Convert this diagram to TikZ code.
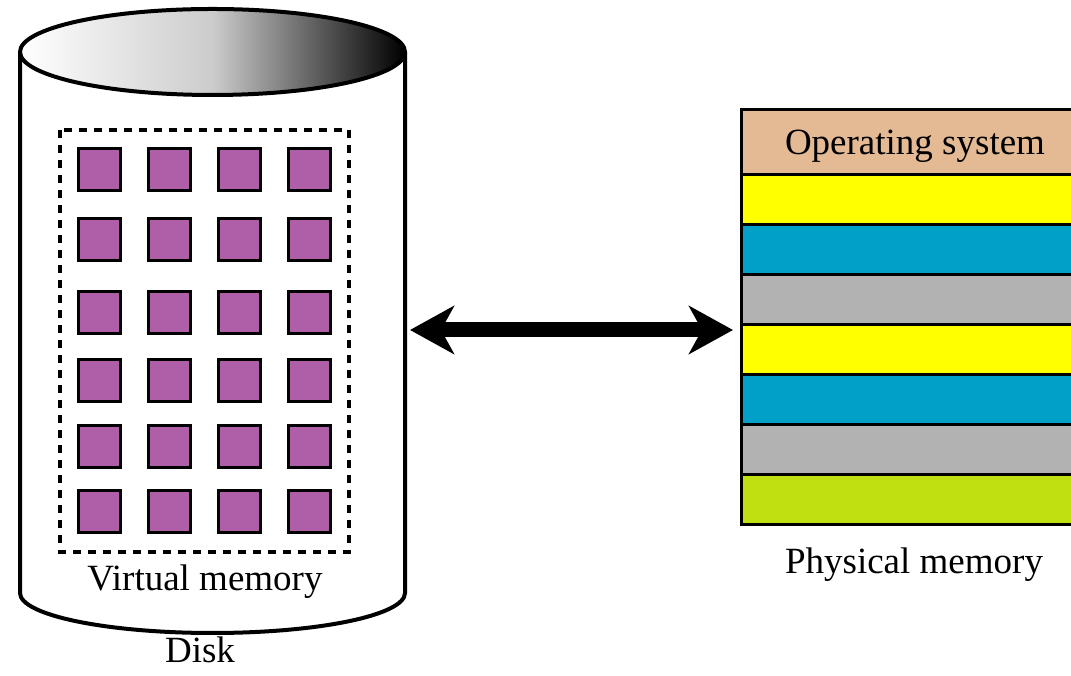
\documentclass[tikz,border=0pt]{standalone}
\usepackage{fontspec}
\setmainfont{Liberation Serif}
\usetikzlibrary{arrows.meta}
\definecolor{pagecol}{HTML}{AF5EA8}
\definecolor{oscol}{HTML}{E3BA94}
\definecolor{bandyellow}{HTML}{FFFF00}
\definecolor{bandblue}{HTML}{00A0C8}
\definecolor{bandgray}{HTML}{B2B2B2}
\definecolor{bandlime}{HTML}{C0E012}
\tikzset{
  outline/.style={draw=black, line width=4pt},
  pagebox/.style={draw=black, line width=3pt, fill=pagecol, minimum size=42pt,
    inner sep=0pt, outer sep=0pt},
  band/.style={draw=black, line width=3pt},
  label/.style={font=\fontsize{37}{40}\selectfont, inner sep=0pt},
  bigarrow/.style={line width=15pt,
    {Stealth[length=44pt, width=48pt, inset=13pt]}-{Stealth[length=44pt, width=48pt, inset=13pt]}}
}
\begin{document}
\begin{tikzpicture}[x=1pt, y=1pt]
  \useasboundingbox (0,0) rectangle (1071,676);
  \clip (0,0) rectangle (1071,676);

  % disk body
  \path[outline, fill=white]
    (20,624) -- (20,83) arc[start angle=180, end angle=360, x radius=192.5, y radius=40]
    -- (405,624);
  % shaded top of the disk (middle color given last so it is kept)
  \path[outline, left color=white, right color=black, middle color=white!80!black]
    (212.5,624) ellipse[x radius=192.5, y radius=43];
  \node[inner sep=0pt] (disk) at (212.5,350) {};

  % virtual memory area
  \draw[line width=3.5pt, dash pattern=on 8pt off 7pt] (60,546) rectangle (349,124);
  \foreach \r/\y in {1/506.5, 2/436, 3/363, 4/295, 5/229, 6/164} {
    \foreach \c/\x in {1/99.5, 2/169.5, 3/239.5, 4/309.5} {
      \node[pagebox] (p\r\c) at (\x,\y) {};
    }
  }
  \node[label, anchor=base] (vm) at (205,85) {Virtual memory};
  \node[label, anchor=base] (disklabel) at (200,13) {Disk};

  % physical memory stack
  \path[band, fill=oscol]      (741,566) rectangle (1089,501);
  \path[band, fill=bandyellow] (741,501) rectangle (1089,451);
  \path[band, fill=bandblue]   (741,451) rectangle (1089,401);
  \path[band, fill=bandgray]   (741,401) rectangle (1089,351);
  \path[band, fill=bandyellow] (741,351) rectangle (1089,301);
  \path[band, fill=bandblue]   (741,301) rectangle (1089,251);
  \path[band, fill=bandgray]   (741,251) rectangle (1089,201);
  \path[band, fill=bandlime]   (741,201) rectangle (1089,151);
  \node[label, anchor=base] (os) at (915,521) {Operating system};
  \node[label, anchor=base] (pm) at (914,102) {Physical memory};

  % transfer between disk and memory
  \coordinate (arrL) at (410,346);
  \coordinate (arrR) at (733,346);
  \draw[bigarrow] (arrL) -- (arrR);
\end{tikzpicture}
\end{document}
